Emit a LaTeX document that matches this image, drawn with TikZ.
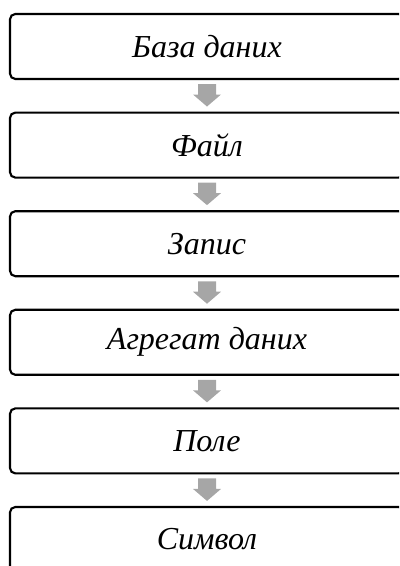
\documentclass[tikz,border=0pt]{standalone}
\usepackage{fontspec}
\setmainfont{Liberation Serif}
\usetikzlibrary{calc}
\definecolor{arrowgray}{HTML}{A6A6A6}

\begin{document}
\begin{tikzpicture}[x=0.75pt,y=0.75pt,
  levelbox/.style={draw=black,line width=1.6pt,rounded corners=4pt,fill=white,
    minimum width=295.5pt,minimum height=48.75pt,inner sep=0pt,
    font=\fontsize{24}{28}\selectfont\itshape}]
\useasboundingbox (0,0) rectangle (399,566);
\clip (0,0) rectangle (399,566);

% Draw levels
\node[levelbox] (db)   at (207,519.5) {База даних};
\node[levelbox] (file) at (207,420.9) {Файл};
\node[levelbox] (rec)  at (207,322.3) {Запис};
\node[levelbox] (agg)  at (207,223.7) {Агрегат даних};
\node[levelbox] (fld)  at (207,125.1) {Поле};
\node[levelbox] (sym)  at (207,26.5)  {Символ};

% Arrows
\foreach \a/\b in {db/file,file/rec,rec/agg,agg/fld,fld/sym}
  \fill[arrowgray] ($(\a.south)+(-9,-4)$) -- ($(\a.south)+(9,-4)$)
    -- ($(\b.north)+(9,17)$) -- ($(\b.north)+(14,17)$) -- ($(\b.north)+(0,5)$)
    -- ($(\b.north)+(-14,17)$) -- ($(\b.north)+(-9,17)$) -- cycle;
\end{tikzpicture}
\end{document}
